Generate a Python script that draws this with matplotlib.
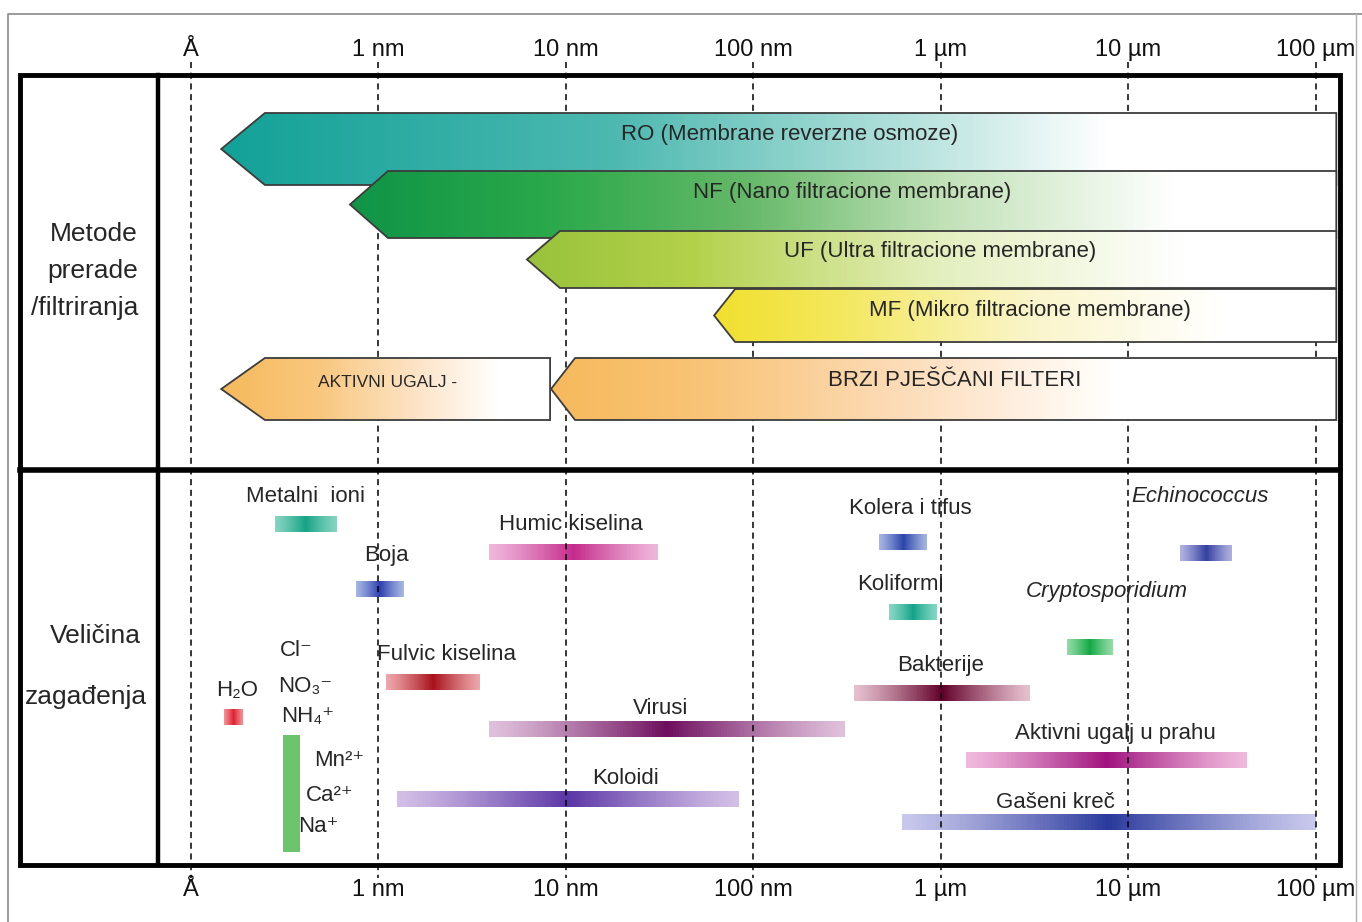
"""Membrane / filtration methods vs. size of contaminants (log size axis)."""
import numpy as np
import matplotlib
matplotlib.use("Agg")
import matplotlib.pyplot as plt
from matplotlib.colors import LinearSegmentedColormap
from matplotlib.patches import Polygon, Rectangle
from matplotlib.ticker import NullLocator

plt.rcParams['font.family'] = ['Liberation Sans', 'DejaVu Sans']

# size axis (nm)
tick_nm = [0.1, 1, 10, 100, 1000, 1e4, 1e5]
tick_labels = ['Å', '1 nm', '10 nm', '100 nm', '1 µm', '10 µm', '100 µm']

# filtration methods: arrow tip, start of the full band, right end (nm)
method_labels = ['RO (Membrane reverzne osmoze)', 'NF (Nano filtracione membrane)',
                 'UF (Ultra filtracione membrane)', 'MF (Mikro filtracione membrane)',
                 'AKTIVNI UGALJ -', 'BRZI PJEŠČANI FILTERI']
method_tip = [0.145, 0.705, 6.2, 61.8, 0.145, 8.34]
method_body = [0.248, 1.125, 9.3, 80, 0.248, 11.2]
method_end = [1.29e5, 1.29e5, 1.29e5, 1.29e5, 8.24, 1.29e5]

# contaminants: size range (nm)
contam_names = ['Metalni  ioni', 'Boja', 'Humic kiselina', 'Fulvic kiselina', 'H₂O',
                'Virusi', 'Koloidi', 'Kolera i tifus', 'Echinococcus', 'Koliformi',
                'Cryptosporidium', 'Bakterije', 'Aktivni ugalj u prahu', 'Gašeni kreč']
contam_lo = [0.28, 0.76, 3.9, 1.1, 0.15, 3.9, 1.26, 470, 19000, 530, 4700, 345, 1370, 620]
contam_hi = [0.6, 1.37, 31, 3.5, 0.19, 310, 84, 850, 36000, 960, 8300, 3000, 43000, 1e5]

# dissolved ions (vertical green band)
ion_labels = ['Cl⁻', 'NO₃⁻', 'NH₄⁺', 'Mn²⁺', 'Ca²⁺', 'Na⁺']
ion_range = (0.31, 0.38)

# ---- layout (pixel rows / positions) ----
W, H = 1362, 922
BOX_L, BOX_R, BOX_T, BOX_B = 20, 1340, 75, 865
COL_X, DIV_Y = 158, 470
X_LO, X_HI = 0.0667, 1.35e5

method_rows = [(113, 185), (171, 238), (231, 288), (289, 342), (358, 420), (358, 420)]
method_text = [(157, 135), (336, 193), (993, 252), (3000, 311), (1.125, 383), (1194, 381)]
method_size = [16, 16, 16, 16, 12.5, 16]
method_cols = [
    [(0, '#12a197'), (0.35, '#4cb8b0'), (0.62, '#b5e1dc'), (0.8, '#ffffff'), (1, '#ffffff')],
    [(0, '#0f9447'), (0.2, '#2aa84a'), (0.4, '#64b868'), (0.6, '#c0e0b6'), (0.84, '#ffffff'), (1, '#ffffff')],
    [(0, '#98c23a'), (0.2, '#b3d04a'), (0.5, '#e2eebc'), (0.82, '#ffffff'), (1, '#ffffff')],
    [(0, '#f1df2e'), (0.2, '#f3e75d'), (0.5, '#f9f4c8'), (0.82, '#ffffff'), (1, '#ffffff')],
    [(0, '#f6b95c'), (0.3, '#f8c77e'), (0.6, '#fce4c8'), (0.85, '#ffffff'), (1, '#ffffff')],
    [(0, '#f6b95c'), (0.2, '#f8c478'), (0.45, '#fcdcb9'), (0.72, '#ffffff'), (1, '#ffffff')],
]

bar_y = [524, 589, 552, 682, 717, 729, 799, 542, 553, 612, 647, 693, 760, 822]
label_pos = [(0.406, 497), (1.098, 556), (10.66, 525), (2.32, 655), (0.176, 690),
             (32.2, 708), (20.7, 778), (687, 509), (24200, 497), (607, 584),
             (7730, 591), (993, 666), (8530, 733), (4080, 802)]
bar_cols = [('#86d4c2', '#16a384'), ('#a4b6e2', '#2e3fb0'), ('#efb5da', '#c42c8c'),
            ('#eda6aa', '#a8121c'), ('#f29098', '#e0222e'), ('#dfc0db', '#6e0e5e'),
            ('#d2bee6', '#5b36a6'), ('#a4b4e2', '#2a45a8'), ('#b0b0de', '#3340a0'),
            ('#86d6c4', '#13a489'), ('#92dba6', '#13a845'), ('#e6bfcd', '#62002a'),
            ('#f0b8dc', '#a0147e'), ('#c8c8ec', '#2a3a9c')]
italic = {'Echinococcus', 'Cryptosporidium'}
ion_pos = [(0.363, 651), (0.406, 686), (0.421, 716), (0.62, 760), (0.55, 795), (0.476, 826)]
BAR_H = 16
TXT = '#262626'

fig = plt.figure(figsize=(W / 100, H / 100), dpi=100)
fig.patch.set_facecolor('white')

ax = fig.add_axes([COL_X / W, (H - BOX_B) / H, (BOX_R - COL_X) / W, (BOX_B - BOX_T) / H])
ax.set_xscale('log')
ax.set_xlim(X_LO, X_HI)
ax.set_ylim(BOX_B, BOX_T)
ax.patch.set_alpha(0)
for s in ax.spines.values():
    s.set_visible(False)
ax.set_yticks([])
ax.set_xticks(tick_nm, tick_labels)
ax.xaxis.set_minor_locator(NullLocator())
ax.tick_params(axis='x', length=0, labelsize=17, colors='#111111',
               top=True, labeltop=True, bottom=True, labelbottom=True)
ax.tick_params(axis='x', which='major', pad=10)

# dashed reference lines
ax.vlines(tick_nm, 62, 878, colors='k', linestyles=(0, (4, 3)), lw=1.1,
          clip_on=False, zorder=3)


def gradient_mesh(lo, hi, top, bot, values, cmap, z):
    xs = np.geomspace(lo, hi, len(values) + 1)
    return ax.pcolormesh(xs, [top, bot], np.asarray(values)[None, :], cmap=cmap,
                         vmin=0, vmax=1, shading='flat', zorder=z,
                         antialiased=False, linewidth=0)


# filtration method arrows
for i, lab in enumerate(method_labels):
    top, bot = method_rows[i]
    mid = (top + bot) / 2
    verts = [(method_tip[i], mid), (method_body[i], top), (method_end[i], top),
             (method_end[i], bot), (method_body[i], bot)]
    z = 4 + i
    poly = Polygon(verts, closed=True, facecolor='none', edgecolor='#3c3c3c',
                   lw=1.3, zorder=z + 0.5)
    ax.add_patch(poly)
    cmap = LinearSegmentedColormap.from_list('m%d' % i, method_cols[i])
    mesh = gradient_mesh(method_tip[i], method_end[i], top, bot,
                         np.linspace(0, 1, 400), cmap, z)
    mesh.set_clip_path(poly)
    tx, ty = method_text[i]
    ax.text(tx, ty, lab, ha='center', va='center', fontsize=method_size[i],
            color=TXT, zorder=20)

# contaminant size bars
for i, name in enumerate(contam_names):
    light, dark = bar_cols[i]
    cmap = LinearSegmentedColormap.from_list('c%d' % i, [light, dark])
    t = np.linspace(0, 1, 120)
    vals = (1 - np.abs(2 * t - 1)) ** 1.2
    y = bar_y[i]
    gradient_mesh(contam_lo[i], contam_hi[i], y - BAR_H / 2, y + BAR_H / 2, vals, cmap, 2)
    lx, ly = label_pos[i]
    ax.text(lx, ly, name, ha='center', va='center', fontsize=16, color=TXT, zorder=20,
            style='italic' if name in italic else 'normal')

# dissolved ions
ax.fill_between(ion_range, 735, 852, color='#6cc46c', lw=0, zorder=2)
for lab, (lx, ly) in zip(ion_labels, ion_pos):
    ax.text(lx, ly, lab, ha='center', va='center', fontsize=16, color=TXT, zorder=20)

# frame and row headers
ov = fig.add_axes([0, 0, 1, 1], zorder=5)
ov.set_xlim(0, W)
ov.set_ylim(H, 0)
ov.axis('off')
ov.plot([8, 8, W], [H, 14, 14], color='#8a8a8a', lw=1.2)
ov.plot([1356, 1356], [14, H], color='#b0b0b0', lw=1.0)
ov.add_patch(Rectangle((BOX_L, BOX_T), BOX_R - BOX_L, BOX_B - BOX_T, fill=False,
                       edgecolor='k', lw=3.5))
ov.plot([BOX_L, BOX_R], [DIV_Y, DIV_Y], color='k', lw=4)
ov.plot([COL_X, COL_X], [BOX_T, BOX_B], color='k', lw=3.2)

for txt, yy in [('Metode', 234), ('prerade', 271), ('/filtriranja', 308)]:
    ov.text(138, yy, txt, ha='right', va='center', fontsize=19, color=TXT)
ov.text(95, 636, 'Veličina', ha='center', va='center', fontsize=19, color=TXT)
ov.text(86, 697, 'zagađenja', ha='center', va='center', fontsize=19, color=TXT)

fig.savefig('out.png', dpi=100, facecolor='white')
